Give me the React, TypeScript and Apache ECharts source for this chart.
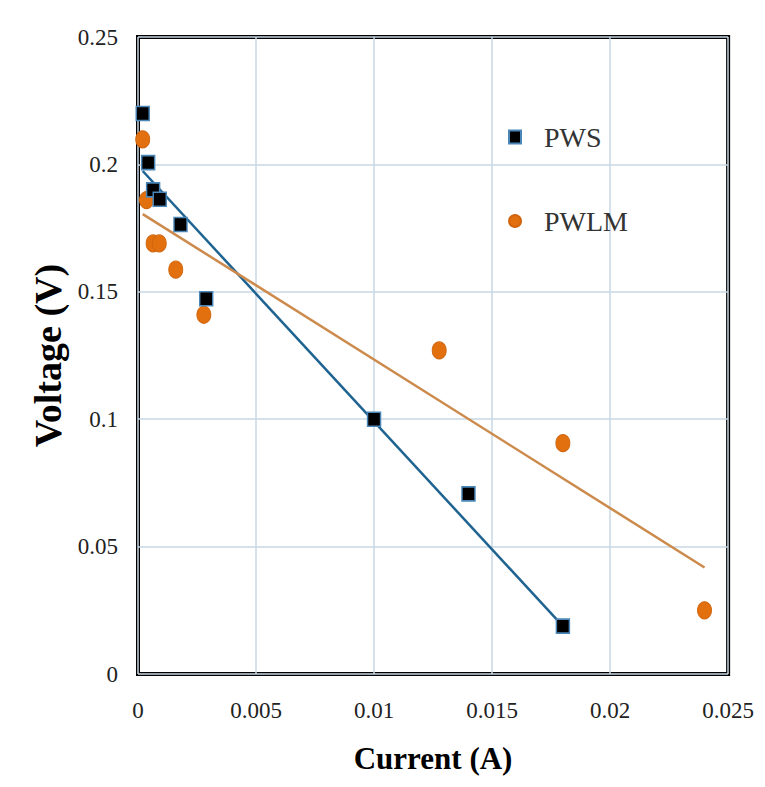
import React, { useEffect, useRef } from "react";
import * as echarts from "echarts";

const pwsCurrent = [0.0002, 0.00043, 0.00064, 0.00092, 0.0018, 0.00289, 0.01, 0.014, 0.018];
const pwsVoltage = [0.22, 0.2007, 0.19, 0.1863, 0.1764, 0.1473, 0.1, 0.0707, 0.0188];
const pwlmCurrent = [0.0002, 0.00036, 0.00064, 0.0009, 0.0016, 0.00279, 0.01276, 0.018, 0.024];
const pwlmVoltage = [0.2098, 0.186, 0.169, 0.169, 0.1587, 0.141, 0.127, 0.0906, 0.025];
const pwsTrendX = [0.0002, 0.018];
const pwsTrendY = [0.1974, 0.0188];
const pwlmTrendX = [0.0002, 0.024];
const pwlmTrendY = [0.1805, 0.0418];

const zip = (xs: number[], ys: number[]) => xs.map((x, i) => [x, ys[i]]);

const FONT = "'Liberation Serif', 'Times New Roman', serif";

export default function App() {
  const ref = useRef<HTMLDivElement>(null);
  useEffect(() => {
    if (!ref.current) return;
    const chart = echarts.init(ref.current, null, { renderer: "svg" });
    chart.setOption({
      animation: false,
      backgroundColor: "#fff",
      grid: {
        left: 130,
        right: 23,
        top: 29,
        bottom: 102,
        show: true,
        borderColor: "#000",
        borderWidth: 4,
        backgroundColor: "#fff",
      },
      legend: {
        orient: "vertical",
        left: 495,
        top: 110,
        itemGap: 56,
        itemWidth: 12,
        itemHeight: 13,
        data: [
          { name: "PWS", icon: "rect" },
          { name: "PWLM", icon: "circle" },
        ],
        textStyle: { fontFamily: FONT, fontSize: 28, color: "#333", padding: [0, 0, 0, 18] },
      },
      xAxis: {
        type: "value",
        min: 0,
        max: 0.025,
        interval: 0.005,
        name: "Current (A)",
        nameLocation: "middle",
        nameGap: 69,
        nameTextStyle: { fontFamily: FONT, fontSize: 31, fontWeight: "bold", color: "#000" },
        axisLine: { show: false },
        axisTick: { show: false },
        splitLine: { show: true, lineStyle: { color: "#c8d8e4", width: 1.5 } },
        axisLabel: { fontFamily: FONT, fontSize: 23, color: "#222", margin: 25 },
      },
      yAxis: {
        type: "value",
        min: 0,
        max: 0.25,
        interval: 0.05,
        name: "Voltage (V)",
        nameLocation: "middle",
        nameGap: 66,
        nameRotate: 90,
        nameTextStyle: { fontFamily: FONT, fontSize: 38, fontWeight: "bold", color: "#000" },
        axisLine: { show: false },
        axisTick: { show: false },
        splitLine: { show: true, lineStyle: { color: "#c8d8e4", width: 1.5 } },
        axisLabel: { fontFamily: FONT, fontSize: 23, color: "#222", margin: 20 },
      },
      series: [
        {
          name: "PWS trend",
          type: "line",
          data: zip(pwsTrendX, pwsTrendY),
          symbol: "none",
          lineStyle: { color: "#1f6391", width: 2.5 },
          z: 2,
        },
        {
          name: "PWLM trend",
          type: "line",
          data: zip(pwlmTrendX, pwlmTrendY),
          symbol: "none",
          lineStyle: { color: "#cc8a4c", width: 2.5 },
          z: 2,
        },
        {
          name: "PWS",
          type: "scatter",
          data: zip(pwsCurrent, pwsVoltage),
          symbol: "rect",
          symbolSize: [13, 14],
          itemStyle: { color: "#000", borderColor: "#4a86b8", borderWidth: 1.5, opacity: 1 },
          z: 4,
        },
        {
          name: "PWLM",
          type: "scatter",
          data: zip(pwlmCurrent, pwlmVoltage),
          symbol: "circle",
          symbolSize: [14, 17],
          itemStyle: { color: "#e3700e", borderColor: "#d0650c", borderWidth: 1, opacity: 1 },
          z: 3,
        },
      ],
    });
    return () => chart.dispose();
  }, []);
  return <div ref={ref} style={{ width: 749, height: 771 }} />;
}
